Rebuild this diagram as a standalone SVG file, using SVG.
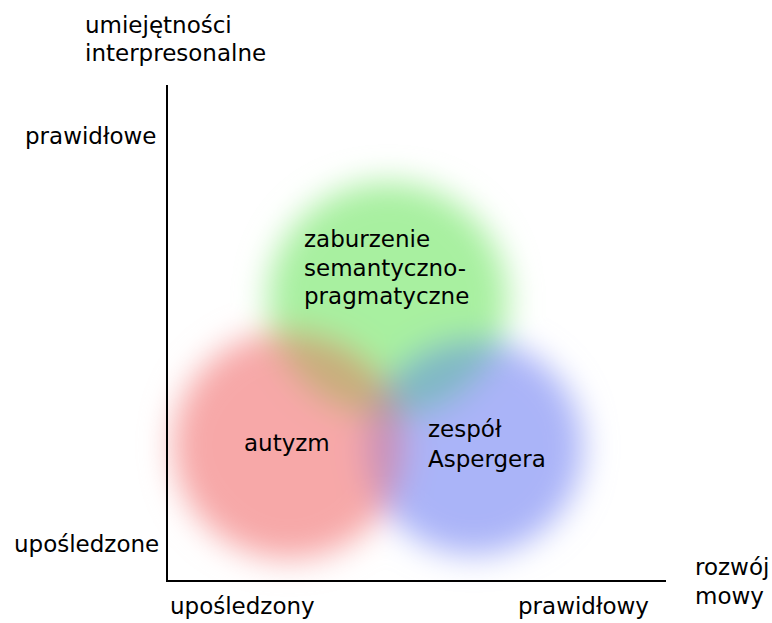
<svg xmlns="http://www.w3.org/2000/svg" width="772" height="623" viewBox="0 0 772 623">
<style>
text{font-family:"DejaVu Sans",sans-serif;font-size:23px;fill:#000}
</style>
<defs>
<filter id="blur" x="-20%" y="-20%" width="140%" height="140%"><feGaussianBlur stdDeviation="16"/></filter>
<ellipse id="eG" cx="388" cy="300" rx="120" ry="118"/>
<ellipse id="eR" cx="289" cy="445" rx="116" ry="114"/>
<ellipse id="eB" cx="474" cy="447" rx="109" ry="108"/>
<clipPath id="cG"><use href="#eG"/></clipPath>
<clipPath id="cR"><use href="#eR"/></clipPath>
<clipPath id="cB"><use href="#eB"/></clipPath>
</defs>
<rect width="772" height="623" fill="#fff"/>
<g id="blobs" filter="url(#blur)">
<g id="green"><use href="#eG" fill="#a8f0a0"/></g>
<g id="red"><use href="#eR" fill="#f7a8a8"/></g>
<g id="blue"><use href="#eB" fill="#aab4f8"/></g>
<g clip-path="url(#cG)"><use href="#eR" fill="#c8ae7c"/></g>
<g clip-path="url(#cG)"><use href="#eB" fill="#80b8c4"/></g>
<g clip-path="url(#cR)"><use href="#eB" fill="#c890b8"/></g>
<g clip-path="url(#cG)"><g clip-path="url(#cR)"><use href="#eB" fill="#b8949c"/></g></g>
</g>
<g id="axes" stroke="#000" stroke-width="2" fill="none">
<line x1="167" y1="85" x2="167" y2="582"/>
<line x1="166" y1="581" x2="666" y2="581"/>
</g>
<g id="labels">
<text x="85" y="33">umiejętności</text>
<text x="85" y="61">interpresonalne</text>
<text x="25" y="144">prawidłowe</text>
<text x="14" y="552">upośledzone</text>
<text x="170" y="614">upośledzony</text>
<text x="518" y="614">prawidłowy</text>
<text x="695" y="575">rozwój</text>
<text x="695" y="604">mowy</text>
</g>
<g id="node-green"><text x="304" y="247">zaburzenie</text><text x="304" y="276">semantyczno-</text><text x="304" y="304">pragmatyczne</text></g>
<g id="node-red"><text x="244" y="451">autyzm</text></g>
<g id="node-blue"><text x="428" y="437">zespół</text><text x="428" y="467">Aspergera</text></g>
</svg>
